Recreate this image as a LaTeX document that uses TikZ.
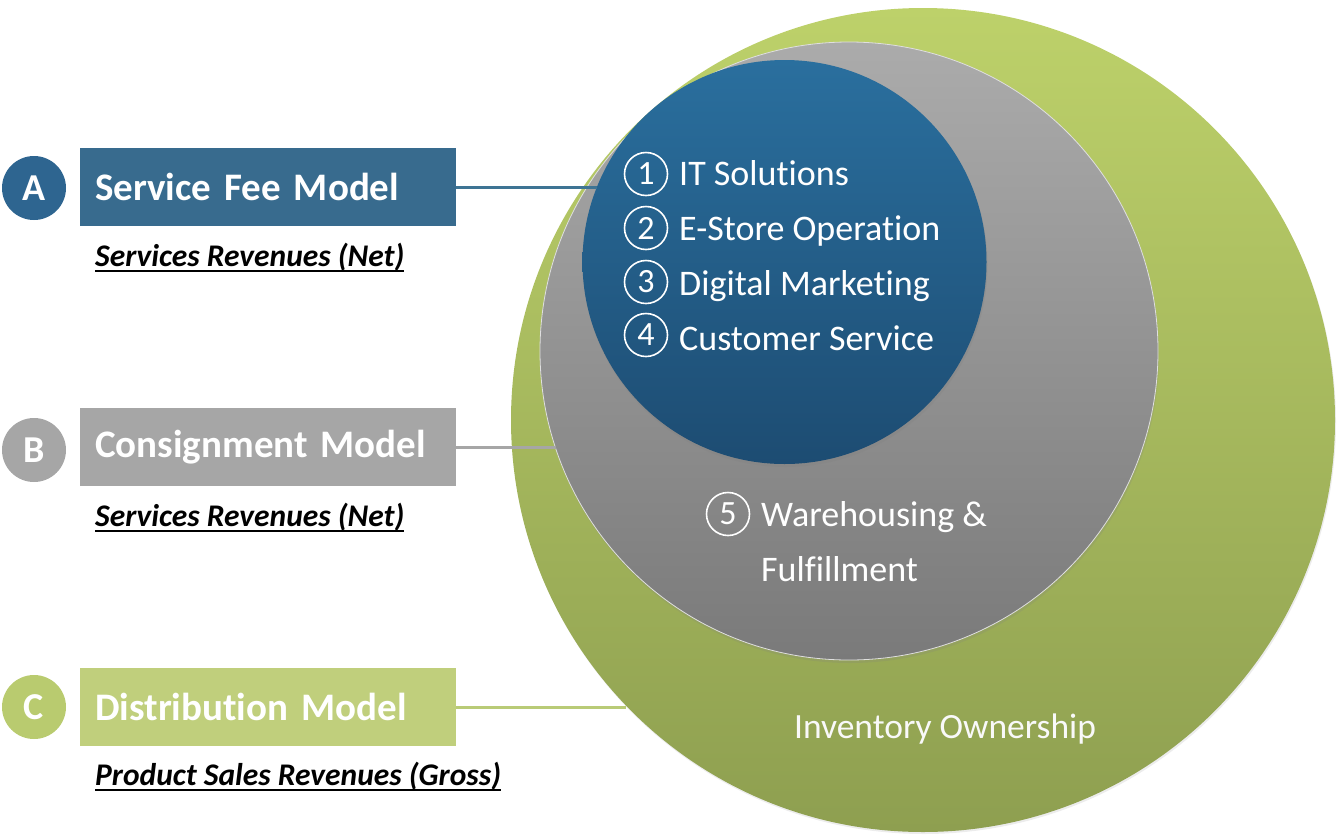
\documentclass[tikz,border=0pt]{standalone}
\usepackage{fontspec}
\setmainfont{Carlito}[Ligatures=NoCommon]
\usetikzlibrary{shadows}
\definecolor{boxA}{HTML}{386B8E}
\definecolor{circA}{HTML}{2E6590}
\definecolor{lineA}{HTML}{3E7494}
\definecolor{blueTop}{HTML}{2A6F9E}
\definecolor{blueBot}{HTML}{1D4C72}
\definecolor{boxB}{HTML}{A6A6A6}
\definecolor{grayTop}{HTML}{ABABAB}
\definecolor{grayBot}{HTML}{7A7A7A}
\definecolor{boxC}{HTML}{C0CF7C}
\definecolor{circC}{HTML}{B9CB6F}
\definecolor{lineC}{HTML}{B9CB77}
\definecolor{greenTop}{HTML}{BDD16A}
\definecolor{greenBot}{HTML}{8E9F50}
\newcommand{\thickul}[1]{\setbox0\hbox{#1}\leavevmode\rlap{\copy0}\raisebox{-6pt}{\rule{\wd0}{2.2pt}}}
\begin{document}
\begin{tikzpicture}[x=1pt,y=-1pt,
  ring/.style={circle, inner sep=0pt},
  modelbox/.style={rectangle, anchor=west, minimum height=78pt, text width=346pt,
     inner xsep=15pt, inner ysep=0pt, align=left, text=white,
     font=\fontsize{39}{44}\bfseries\selectfont},
  letter/.style={circle, inner sep=0pt, minimum size=64pt, text=white,
     font=\fontsize{38}{40}\bfseries\selectfont},
  subtitle/.style={anchor=base west, inner sep=0pt, text=black,
     font=\fontsize{31.5}{34}\bfseries\itshape\selectfont},
  item/.style={anchor=base west, inner sep=0pt, text=white,
     font=\fontsize{36}{40}\selectfont},
  num/.style={circle, draw=white, line width=1.6pt, inner sep=0pt, minimum size=43pt,
     text=white, font=\fontsize{34}{36}\selectfont},
  conn/.style={line width=3pt}
]
\useasboundingbox (0,0) rectangle (1341,836);

% nested circles
\node[ring, minimum size=824pt, top color=greenTop, bottom color=greenBot,
      drop shadow={opacity=0.15, shadow xshift=1pt, shadow yshift=-2pt}] (green) at (923,420) {};
\node[ring, minimum size=618pt, top color=grayTop, bottom color=grayBot,
      draw=white!75!gray, line width=0.8pt,
      drop shadow={opacity=0.2, shadow xshift=1pt, shadow yshift=-3pt}] (gray) at (849,351) {};
\node[ring, minimum size=404pt, top color=blueTop, bottom color=blueBot,
      drop shadow={opacity=0.25, shadow xshift=1pt, shadow yshift=-3pt}] (blue) at (784.5,262) {};

% models
\node[letter, fill=circA] (la) at (34,188) {A};
\node[modelbox, fill=boxA] (ba) at (80,187) {Service Fee Model};
\node[subtitle] (sa) at (95,266) {\thickul{Services Revenues (Net)}};

\node[letter, fill=boxB] (lb) at (34,450) {B};
\node[modelbox, fill=boxB] (bb) at (80,447) {Consignment Model};
\node[subtitle] (sb) at (95,526) {\thickul{Services Revenues (Net)}};

\node[letter, fill=circC] (lc) at (34,707) {C};
\node[modelbox, fill=boxC] (bc) at (80,707) {Distribution Model};
\node[subtitle] (sc) at (95,785) {\thickul{Product Sales Revenues (Gross)}};

% connectors
\coordinate (ea) at (597,187);
\coordinate (eb) at (556,447);
\coordinate (ec) at (626,707);
\draw[conn, lineA] (ba.east) -- (ba.east -| ea);
\draw[conn, boxB] (bb.east) -- (bb.east -| eb);
\draw[conn, lineC] (bc.east) -- (bc.east -| ec);

% services
\node[num] (n1) at (646,174) {1};
\node[item] (t1) at (679,185) {IT Solutions};
\node[num] (n2) at (646,228) {2};
\node[item] (t2) at (679,240) {E-Store Operation};
\node[num] (n3) at (646,282) {3};
\node[item] (t3) at (679,295) {Digital Marketing};
\node[num] (n4) at (646,335) {4};
\node[item] (t4) at (679,350) {Customer Service};

\node[num] (n5) at (728,514) {5};
\node[item] (t5) at (761,526) {Warehousing \&};
\node[item] (t6) at (761,581) {Fulfillment};

\node[item, anchor=center, text=white!95!gray, font=\fontsize{35.5}{38}\selectfont] (inv) at (945,729) {Inventory Ownership};
\end{tikzpicture}
\end{document}
